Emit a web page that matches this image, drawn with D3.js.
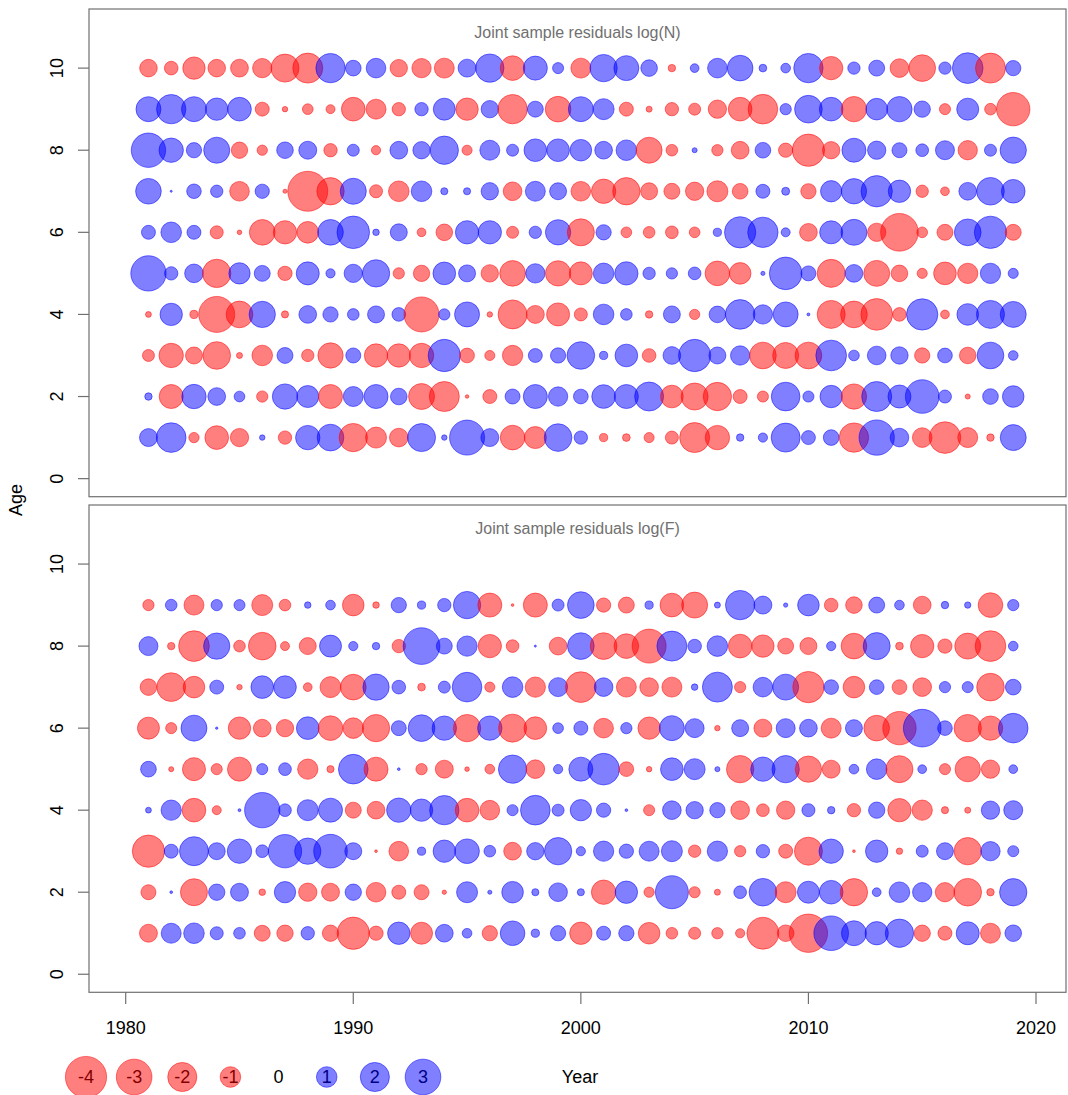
<!DOCTYPE html>
<html>
<head>
<meta charset="utf-8">
<script src="https://cdn.jsdelivr.net/npm/d3@7"></script>
<style>
  body { margin: 0; background: #ffffff; }
  text { font-family: Arial, "Liberation Sans", sans-serif; }
</style>
</head>
<body>
<svg id="chart" width="1068" height="1095"></svg>
<script>
var years = [1981, 1982, 1983, 1984, 1985, 1986, 1987, 1988, 1989, 1990,
  1991, 1992, 1993, 1994, 1995, 1996, 1997, 1998, 1999, 2000,
  2001, 2002, 2003, 2004, 2005, 2006, 2007, 2008, 2009, 2010,
  2011, 2012, 2013, 2014, 2015, 2016, 2017, 2018, 2019];

var agesN = [1, 2, 3, 4, 5, 6, 7, 8, 9, 10];
var agesF = [1, 2, 3, 4, 5, 6, 7, 8, 9];

// joint sample residuals of log(N), one row per age, 1981..2019
var residN = [
  [0.76, 2.07, -0.25, -1.32, -0.79, 0.07, -0.42, 1.4, 1.68, -1.89,
   -1.04, -0.82, 1.85, 0.07, 2.89, 0.76, -1.43, -1.14, 1.8, 0.42,
   -0.16, -0.14, -0.24, -0.4, -2.12, -1.4, 0.13, 0.2, 1.98, 0.46,
   0.58, -2.03, 2.94, 0.82, -0.91, -2.36, -0.94, -0.13, 1.59],
  [0.13, -1.36, 1.4, 0.74, 0.27, -0.3, 1.51, 1.14, -1.36, 0.94,
   1.36, 0.65, -1.59, -2.12, -0.03, -0.46, 0.53, 1.36, 0.88, 0.51,
   1.32, 1.36, 1.98, -1.21, -1.72, -1.89, -0.46, -0.29, 1.94, 0.29,
   1.18, -1.51, 2.12, 1.25, 2.67, 0.4, -0.06, 0.58, 1.1],
  [-0.34, -1.4, -0.68, -1.8, -0.085, -1.0, 0.6, -0.36, -1.51, 0.53,
   -1.28, -1.28, -1.4, 2.46, -0.51, -0.24, -0.97, 0.46, 0.55, 1.8,
   0.16, 1.21, -0.44, 0.74, 2.46, 0.68, 0.88, -1.68, -1.59, -1.68,
   2.22, 0.27, 0.82, 0.71, -0.55, 0.51, -0.65, 1.68, 0.22],
  [-0.08, 1.18, -0.16, -3.05, -1.68, 1.63, -0.12, 0.74, 0.55, 0.32,
   0.68, 0.44, -2.89, 0.3, 1.47, -0.07, -1.98, -0.76, -1.25, -0.4,
   1.0, 0.32, -0.13, 0.68, -0.25, 0.65, 2.07, 0.88, 1.47, 0.02,
   -1.85, -1.68, -2.36, -0.44, 2.31, -0.18, 1.1, 1.85, 1.59],
  [2.94, 0.42, 0.82, -1.89, 1.07, 0.6, -0.48, 1.25, 0.2, 0.79,
   1.76, -0.3, -0.63, 1.21, 0.68, -0.71, -1.55, 0.88, -1.51, -1.25,
   1.0, 1.28, 0.36, 0.3, 0.38, -1.43, -1.1, 0.04, 2.51, 0.53,
   -1.85, 0.74, -1.59, -0.65, -0.24, -1.21, -0.97, 0.97, 0.24],
  [0.46, 1.0, 0.46, -0.4, -0.05, -1.55, -1.28, -1.1, 1.55, 2.5,
   0.1, 0.68, -0.18, -0.65, 1.28, 1.28, -0.34, 0.36, 1.51, -1.72,
   0.55, -0.27, -0.32, -0.38, -0.27, 0.16, 2.31, 2.17, 0.19, -0.74,
   1.25, 1.59, -0.79, -3.34, -0.27, -0.6, 1.68, 2.46, -0.6],
  [1.55, 0.01, 0.5, 0.36, -0.91, 0.48, -0.04, -3.77, -1.76, 1.6,
   -0.4, -1.0, 1.0, 0.12, 0.12, 0.71, -0.82, 0.94, 0.68, -0.91,
   -1.4, -1.76, -0.68, -0.6, -0.79, -1.04, -0.58, 0.46, 0.15, -0.55,
   1.07, 1.51, 2.31, 1.18, -0.36, -0.18, 0.74, 1.8, 1.32],
  [2.78, 1.4, 0.55, 1.6, -0.63, -0.25, 0.65, 0.76, -0.42, 0.34,
   -0.2, 0.74, 0.71, 1.89, -0.24, 0.94, 0.34, 1.21, 1.21, 1.1,
   0.74, 1.0, -1.59, -0.32, 0.06, -0.3, -0.74, 0.58, -0.48, -2.46,
   -0.71, 1.36, 0.79, 0.53, 0.38, 0.85, -0.88, 0.34, 1.63],
  [1.47, 2.03, 1.47, 1.18, 1.32, -0.46, -0.07, -0.27, -0.19, -1.32,
   -0.94, -0.42, 0.42, 1.14, -1.18, 0.71, -2.03, 0.6, -1.55, 1.47,
   1.04, -0.46, -0.085, -0.42, -0.34, -0.79, -1.32, -2.07, 0.3, 1.8,
   1.32, -1.51, 1.1, 1.51, 0.63, -0.29, 1.14, -0.32, -2.62],
  [-0.73, -0.44, -1.18, -0.73, -0.75, -0.88, -1.85, -2.12, 2.03, 0.58,
   0.91, -0.71, -0.88, -0.94, 0.76, 1.89, -1.43, 1.36, 0.29, -0.94,
   1.76, 1.47, 0.65, -0.13, 0.18, 0.91, 1.55, 0.14, 0.22, 2.03,
   -1.28, 0.36, 0.6, -0.82, -1.68, 0.36, 2.22, -2.12, 0.55]
];

// joint sample residuals of log(F), one row per age, 1981..2019
var residF = [
  [-0.76, 0.94, 1.0, 0.4, 0.32, -0.6, -0.63, 0.42, -0.63, -2.46,
   -0.48, 1.18, -1.14, 0.74, 0.22, -0.55, 1.43, 0.16, 0.55, -1.18,
   0.46, 0.55, -1.1, -0.32, -0.34, -0.3, -0.2, -2.41, -0.65, -3.46,
   2.83, 1.47, 1.28, 1.89, -0.63, -0.46, 1.25, -0.94, 0.65],
  [-0.53, 0.017, -1.72, 0.63, 0.76, -0.1, 1.07, -0.79, -0.76, 0.63,
   -0.91, -0.46, -0.53, -0.044, 1.04, 0.04, 1.1, 0.12, 0.82, 0.12,
   -1.4, 1.18, -0.25, 2.57, -0.29, -0.085, 0.38, 1.8, -1.04, 1.14,
   1.32, -1.76, 0.18, 1.0, 0.88, -0.88, -1.8, -0.13, 1.76],
  [-2.46, 0.46, 1.98, 0.68, 1.4, 0.38, 2.62, 1.63, 2.67, 0.68,
   -0.017, -0.91, 0.16, 1.18, 1.43, 0.32, -0.74, 0.71, 1.76, 0.2,
   0.97, 0.48, 0.94, 1.04, -0.36, 0.97, -0.3, 0.42, -0.46, -1.85,
   1.4, -0.017, 1.18, -0.095, 0.34, 0.68, -1.76, 0.88, 0.29],
  [0.08, 0.97, -1.32, -0.19, 0.02, 2.94, 0.38, 1.04, 1.36, -0.6,
   -0.74, 1.4, 1.18, 2.03, -1.32, -0.91, 0.29, 2.07, 0.34, 1.07,
   0.48, 0.017, -0.29, 0.82, 0.71, 0.55, -0.82, -0.38, -0.79, 0.4,
   0.13, -0.42, 0.63, -1.28, -0.97, -0.12, -0.085, 0.79, 0.85],
  [0.58, -0.06, -1.25, -0.29, -1.36, 0.29, 0.38, -0.97, -0.12, 2.07,
   -1.36, 0.017, -0.3, -0.76, -0.05, -0.22, 1.89, -0.82, 0.2, 1.36,
   2.36, -0.51, -0.07, 1.21, 1.04, 0.06, -1.76, 1.4, 1.76, -1.63,
   -0.76, 0.22, 1.0, -1.72, 0.18, -0.29, -1.51, -0.79, 0.18],
  [-1.14, -0.29, 1.59, 0.013, -1.18, -0.74, -0.71, 1.21, -1.43, -1.0,
   -1.76, 0.53, 1.68, 1.4, -1.76, 1.4, -1.85, -1.21, 0.27, 0.46,
   -0.91, 0.3, -1.18, 1.47, 0.85, -0.07, 0.68, -0.76, 0.85, 0.74,
   -0.94, 0.68, -1.55, -2.62, 3.34, 0.51, -1.76, -1.4, 2.07],
  [-0.65, -1.94, -1.1, 0.46, -0.07, 1.21, 1.21, -0.18, -1.04, -1.55,
   1.63, 0.44, -0.14, 0.34, 2.07, -0.24, 1.0, -0.97, 0.85, -2.22,
   0.82, -0.94, -0.82, -0.94, 0.1, 2.12, -0.3, 0.91, 1.59, -2.31,
   0.51, -1.1, 0.51, -0.51, -0.82, 0.3, 0.29, -1.8, 0.58],
  [0.85, -0.13, -2.22, 1.63, -0.32, -1.8, -0.19, -0.68, 1.14, 0.2,
   0.13, -0.42, 3.17, 0.6, 0.97, -1.28, -0.38, 0.01, -0.74, 1.68,
   -1.68, -1.43, -2.72, 2.12, 0.44, 1.0, -1.32, -1.18, -0.6, -0.68,
   0.2, -1.55, 1.72, -0.14, -1.28, -0.48, -1.59, -2.22, 0.22],
  [-0.3, 0.32, -0.94, 0.3, 0.29, -1.04, -0.32, 0.1, 0.22, -1.1,
   -0.1, 0.55, 0.16, 0.42, 1.76, -1.36, -0.017, -1.36, 0.34, 1.68,
   -0.48, -0.6, 0.16, -1.32, -1.59, 0.085, 2.03, 0.76, 0.044, 1.1,
   -0.44, -0.65, 0.6, 0.22, -0.74, 0.13, 0.095, -1.43, 0.3]
];

var ageTicks = [0, 2, 4, 6, 8, 10];
var yearTicks = [1980, 1990, 2000, 2010, 2020];
var legendValues = [-4, -3, -2, -1, 0, 1, 2, 3];

var svg = d3.select('#chart');
var width = +svg.attr('width');

var boxLeft = 89;
var boxRight = 1066;

var x = d3.scaleLinear().domain([1980, 2020]).range([125.7, 1036]);
var r = d3.scaleSqrt().domain([0, 4]).range([0, 20.6]);

function bubbleFill(v) {
  return v < 0 ? 'rgba(255,0,0,0.5)' : 'rgba(0,0,255,0.5)';
}

svg.append('rect')
  .attr('width', width)
  .attr('height', +svg.attr('height'))
  .style('fill', '#ffffff');

function drawPanel(title, ages, resid, top, bottom) {
  // ylim 0..11 with the usual 4% padding
  var y = d3.scaleLinear().domain([-0.44, 11.44]).range([bottom, top]);
  var g = svg.append('g').attr('class', 'panel');

  var cells = [];
  ages.forEach(function(age, i) {
    years.forEach(function(year, j) {
      cells.push({ year: year, age: age, value: resid[i][j] });
    });
  });

  g.selectAll('.bubble')
    .data(cells)
    .enter()
    .append('circle')
    .attr('class', 'bubble')
    .attr('cx', function(d) { return x(d.year); })
    .attr('cy', function(d) { return y(d.age); })
    .attr('r', function(d) { return r(Math.abs(d.value)); })
    .style('fill', function(d) { return bubbleFill(d.value); })
    .style('stroke', function(d) { return bubbleFill(d.value); })
    .style('stroke-width', 1);

  g.append('rect')
    .attr('x', boxLeft)
    .attr('y', top)
    .attr('width', boxRight - boxLeft)
    .attr('height', bottom - top)
    .style('fill', 'none')
    .style('stroke', '#707070')
    .style('stroke-width', 1.2);

  g.selectAll('.age-tick')
    .data(ageTicks)
    .enter()
    .append('line')
    .attr('class', 'age-tick')
    .attr('x1', boxLeft - 11)
    .attr('x2', boxLeft)
    .attr('y1', function(d) { return y(d); })
    .attr('y2', function(d) { return y(d); })
    .style('stroke', '#707070')
    .style('stroke-width', 1.2);

  g.selectAll('.age-label')
    .data(ageTicks)
    .enter()
    .append('text')
    .attr('class', 'age-label')
    .attr('transform', function(d) {
      return 'translate(63,' + y(d) + ') rotate(-90)';
    })
    .style('text-anchor', 'middle')
    .style('font-size', '18px')
    .style('fill', '#000000')
    .text(function(d) { return d; });

  g.append('text')
    .attr('x', (boxLeft + boxRight) / 2)
    .attr('y', top + 29)
    .style('text-anchor', 'middle')
    .style('font-size', '16px')
    .style('fill', '#707070')
    .text(title);
}

drawPanel('Joint sample residuals log(N)', agesN, residN, 9, 496.7);
drawPanel('Joint sample residuals log(F)', agesF, residF, 505, 992.3);

// year axis under the lower panel
svg.selectAll('.year-tick')
  .data(yearTicks)
  .enter()
  .append('line')
  .attr('class', 'year-tick')
  .attr('x1', function(d) { return x(d); })
  .attr('x2', function(d) { return x(d); })
  .attr('y1', 992.3)
  .attr('y2', 1004)
  .style('stroke', '#707070')
  .style('stroke-width', 1.2);

svg.selectAll('.year-label')
  .data(yearTicks)
  .enter()
  .append('text')
  .attr('class', 'year-label')
  .attr('x', function(d) { return x(d); })
  .attr('y', 1034)
  .style('text-anchor', 'middle')
  .style('font-size', '18px')
  .style('fill', '#000000')
  .text(function(d) { return d; });

svg.append('text')
  .attr('transform', 'translate(22,500) rotate(-90)')
  .style('text-anchor', 'middle')
  .style('font-size', '18px')
  .style('fill', '#000000')
  .text('Age');

svg.append('text')
  .attr('x', 580)
  .attr('y', 1077)
  .attr('dy', '0.35em')
  .style('text-anchor', 'middle')
  .style('font-size', '18px')
  .style('fill', '#000000')
  .text('Year');

// bubble size legend: labels first, bubbles drawn over them
var legendX = d3.scaleLinear().domain([0, legendValues.length - 1]).range([86, 423]);
var legendY = 1077;

var legend = svg.selectAll('.legend-item')
  .data(legendValues)
  .enter()
  .append('g')
  .attr('class', 'legend-item')
  .attr('transform', function(d, i) {
    return 'translate(' + legendX(i) + ',' + legendY + ')';
  });

legend.append('text')
  .attr('dy', '0.35em')
  .style('text-anchor', 'middle')
  .style('font-size', '18px')
  .style('fill', '#000000')
  .text(function(d) { return d; });

legend.append('circle')
  .attr('r', function(d) { return r(Math.abs(d)); })
  .style('fill', function(d) { return bubbleFill(d); })
  .style('stroke', function(d) { return bubbleFill(d); })
  .style('stroke-width', 1);
</script>
</body>
</html>
